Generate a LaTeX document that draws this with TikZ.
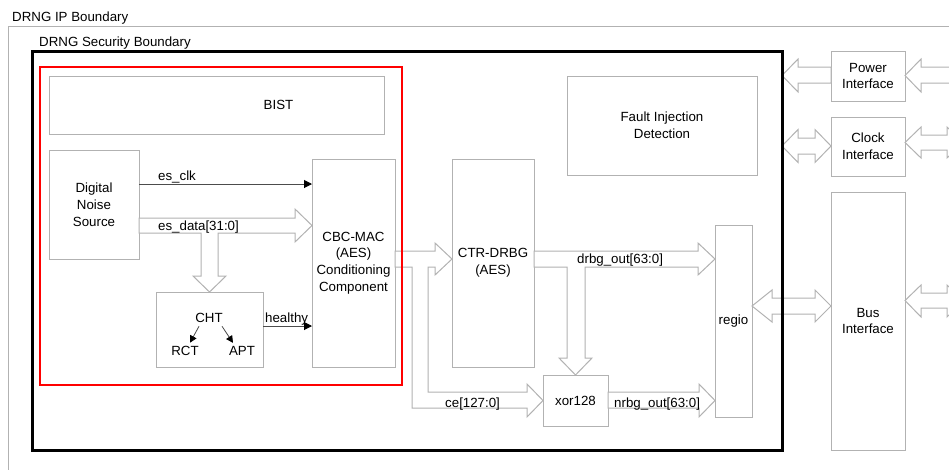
\documentclass[tikz,border=0pt]{standalone}
\usepackage{fontspec}
\setmainfont{Liberation Sans}
\usetikzlibrary{arrows.meta,calc}
\pgfdeclarelayer{front}
\pgfsetlayers{main,front}

\begin{document}
\begin{tikzpicture}[x=1pt, y=-1pt,
  font=\fontsize{13.3}{16.8}\selectfont,
  blk/.style={draw=gray!60, line width=1pt, fill=white, align=center, inner sep=0pt, outer sep=0pt},
  fat/.style={draw=gray!60, line width=1pt, fill=white},
  sig/.style={draw=black!70, line width=1pt, -{Triangle[length=8pt,width=8pt,black]}},
  tip/.style={draw=black!70, line width=0.8pt, -{Triangle[length=7pt,width=7pt,black]}},
  tag/.style={inner sep=0pt, anchor=base west},
  bound/.style={draw, inner sep=0pt, outer sep=0pt}
]
\useasboundingbox (0,0) rectangle (949,469);
\clip (0,0) rectangle (949,469);

% boundaries
\draw[gray!60, line width=1pt] (8,26) rectangle (1000,520);
\node[tag] (iplbl) at (12,21.5) {DRNG IP Boundary};
\node[tag] (seclbl) at (39,46) {DRNG Security Boundary};
\begin{pgfonlayer}{front}
\node[bound, line width=3pt, minimum width=750, minimum height=399] (secb) at (407,250.5) {};
\node[bound, red, line width=2pt, minimum width=362, minimum height=318] (redb) at (221,226) {};
\end{pgfonlayer}
\coordinate (offR) at (963,0);

% blocks
\node[blk, minimum width=335, minimum height=58, label={[xshift=62pt]center:BIST}] (bist) at (216.5,105) {};
\node[blk, minimum width=90, minimum height=109] (dns) at (94,204.5) {Digital\\Noise\\Source};
\node[blk, minimum width=83, minimum height=208] (cbc) at (353.5,263) {CBC-MAC\\(AES)\\Conditioning\\Component};
\node[blk, minimum width=107, minimum height=75] (chtbox) at (209.5,329.5) {};
\node (cht) at (209,318) {CHT};
\node (rct) at (185,351) {RCT};
\node (apt) at (242,351) {APT};
\node[blk, minimum width=82, minimum height=208] (drbg) at (493,263) {CTR-DRBG\\(AES)};
\node[blk, minimum width=190, minimum height=99] (fid) at (662,125.5) {Fault Injection\\Detection};
\node[blk, minimum width=37, minimum height=192] (regio) at (733.5,321) {regio};
\node[blk, minimum width=65, minimum height=51] (xor) at (575.5,400.5) {xor128};
\node[blk, minimum width=74, minimum height=50] (pwr) at (868,76) {Power\\Interface};
\node[blk, minimum width=74, minimum height=59] (clk) at (868,146.5) {Clock\\Interface};
\node[blk, minimum width=74, minimum height=258] (bus) at (868,321) {Bus\\Interface};

% thin signals
\draw[sig] (dns.east |- 0,184) -- (cbc.west |- 0,184);
\node[tag] (clklbl) at (158,180) {es\_clk};
\draw[sig] (chtbox.east |- 0,326) -- (cbc.west |- 0,326);
\node[tag] (hlbl) at (265,322) {healthy};
\draw[tip] ([xshift=-10pt]cht.south) -- ([xshift=5pt]rct.north);
\draw[tip] ([xshift=13pt]cht.south) -- ([xshift=-9pt]apt.north);

% wide buses
\draw[fat] (dns.east |- 0,218) -- (295,218) -- (295,209) -- (cbc.west |- 0,225.5) -- (295,242) -- (295,233)
  -- (218,233) -- (218,276) -- (226,276) -- (chtbox.north) -- (193,276) -- (201,276) -- (201,233)
  -- (dns.east |- 0,233) -- cycle;
\node[tag] (datalbl) at (158,230) {es\_data[31:0]};

\draw[fat] (cbc.east |- 0,251) -- (435,251) -- (435,243) -- (drbg.west |- 0,259) -- (435,275) -- (435,267)
  -- (428,267) -- (428,392) -- (527,392) -- (527,384) -- (xor.west) -- (527,417) -- (527,408)
  -- (412,408) -- (412,267) -- (cbc.east |- 0,267) -- cycle;
\node[tag] (celbl) at (445,407) {ce[127:0]};

\draw[fat] (drbg.east |- 0,251) -- (698,251) -- (698,243) -- (regio.west |- 0,259) -- (698,275) -- (698,267)
  -- (585,267) -- (585,358) -- (592,358) -- (xor.north) -- (559,358) -- (567,358) -- (567,267)
  -- (drbg.east |- 0,267) -- cycle;
\node[tag] (drbglbl) at (577,263) {drbg\_out[63:0]};

\draw[fat] (xor.east |- 0,392) -- (699,392) -- (699,384) -- (regio.west |- 0,400.5) -- (699,417) -- (699,408)
  -- (xor.east |- 0,408) -- cycle;
\node[tag] (nrbglbl) at (614,407) {nrbg\_out[63:0]};

% interfaces
\draw[fat] (pwr.west |- 0,67) -- (798,67) -- (798,59) -- (secb.east |- 0,75.5) -- (798,92) -- (798,83)
  -- (pwr.west |- 0,83) -- cycle;
\draw[fat] (offR |- 0,67) -- (921,67) -- (921,59) -- (pwr.east |- 0,75.5) -- (921,92) -- (921,83)
  -- (offR |- 0,83);
\draw[fat] (secb.east |- 0,146) -- (798,129.5) -- (798,138) -- (815,138) -- (815,129.5) -- (clk.west |- 0,146)
  -- (815,162.5) -- (815,154) -- (798,154) -- (798,162.5) -- cycle;
\draw[fat] (clk.east |- 0,142.5) -- (921,127) -- (921,135) -- (947,135) -- (947,127) -- (offR |- 0,142.5)
  -- (947,158) -- (947,150) -- (921,150) -- (921,158) -- cycle;
\draw[fat] (regio.east |- 0,306) -- (772,290) -- (772,298) -- (815,298) -- (815,290) -- (bus.west |- 0,306)
  -- (815,322) -- (815,314) -- (772,314) -- (772,322) -- cycle;
\draw[fat] (bus.east |- 0,300.5) -- (921,285) -- (921,293) -- (947,293) -- (947,285) -- (offR |- 0,300.5)
  -- (947,317) -- (947,308) -- (921,308) -- (921,317) -- cycle;
\end{tikzpicture}
\end{document}
